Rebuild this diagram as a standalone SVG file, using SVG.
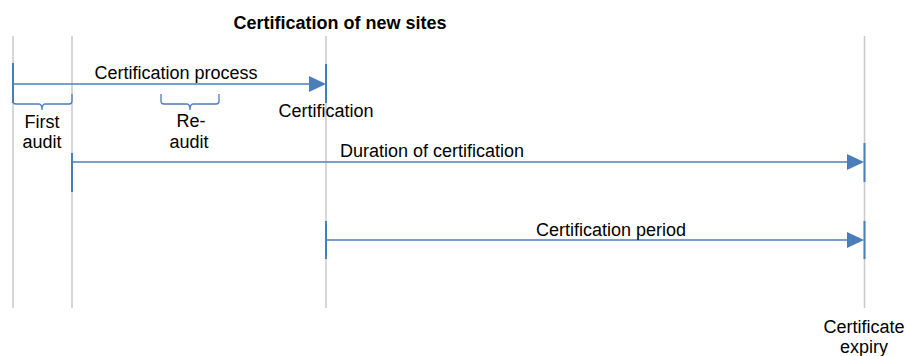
<svg xmlns="http://www.w3.org/2000/svg" width="906" height="356" viewBox="0 0 906 356">
<style>
.grid{stroke:#c8c8c8;stroke-width:1.5;fill:none}
.tick{stroke:#4a7ebb;stroke-width:2;fill:none}
.line{stroke:#4a7ebb;stroke-width:1.5;fill:none}
.brace{stroke:#4a7ebb;stroke-width:1.3;fill:none}
.head{fill:#4a7ebb;stroke:none}
text{font-family:"Liberation Sans",Arial,sans-serif;font-size:18px;fill:#000;text-anchor:middle}
.title{font-weight:bold}
</style>
<rect width="906" height="356" fill="#fff"/>
<g id="gridlines">
<line class="grid" x1="13" y1="36" x2="13" y2="308"/>
<line class="grid" x1="72" y1="36" x2="72" y2="308"/>
<line class="grid" x1="326" y1="36" x2="326" y2="308"/>
<line class="grid" x1="864.5" y1="36" x2="864.5" y2="308"/>
</g>
<g id="title"><text class="title" x="340" y="29">Certification of new sites</text></g>
<g id="connectors">
<line class="tick" x1="13" y1="63" x2="13" y2="103"/>
<line class="tick" x1="326" y1="64" x2="326" y2="103"/>
<line class="line" x1="13" y1="84" x2="310" y2="84"/>
<polygon class="head" points="309,76 326,84 309,92"/>
<line class="tick" x1="72" y1="153" x2="72" y2="192"/>
<line class="tick" x1="864.5" y1="143" x2="864.5" y2="182"/>
<line class="line" x1="72" y1="162" x2="848" y2="162"/>
<polygon class="head" points="847,154 864,162 847,170"/>
<line class="tick" x1="326" y1="221" x2="326" y2="259"/>
<line class="tick" x1="864.5" y1="221" x2="864.5" y2="259"/>
<line class="line" x1="326" y1="240" x2="848" y2="240"/>
<polygon class="head" points="847,232 864,240 847,248"/>
<path class="brace" d="M13,94 L13,101 Q13,104 16,104 L39,104 Q42,104 42,110 Q42,104 45,104 L69,104 Q72,104 72,101 L72,94"/>
<path class="brace" d="M161,94 L161,101 Q161,104 164,104 L187,104 Q190,104 190,110 Q190,104 193,104 L216,104 Q219,104 219,101 L219,94"/>
</g>
<g id="label-process"><text x="176" y="79">Certification process</text></g>
<g id="label-first-audit"><text x="42" y="128">First</text><text x="42" y="148">audit</text></g>
<g id="label-re-audit"><text x="191" y="127">Re-</text><text x="189" y="148">audit</text></g>
<g id="label-certification"><text x="326" y="117">Certification</text></g>
<g id="label-duration"><text x="432" y="157">Duration of certification</text></g>
<g id="label-period"><text x="611" y="236">Certification period</text></g>
<g id="label-expiry"><text x="864" y="333">Certificate</text><text x="864" y="353">expiry</text></g>
</svg>
